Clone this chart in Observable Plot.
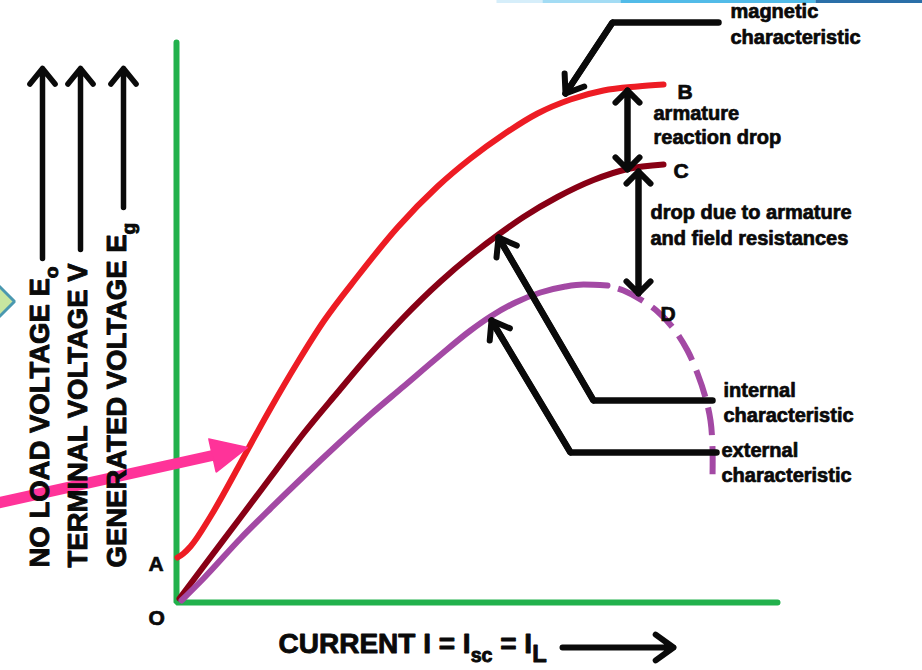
<!DOCTYPE html>
<html><head><meta charset="utf-8">
<script src="https://cdn.jsdelivr.net/npm/d3@7"></script>
<script src="https://cdn.jsdelivr.net/npm/@observablehq/plot@0.6"></script>
<style>
html,body{margin:0;padding:0;background:#fff;}
#chart{width:922px;height:670px;overflow:hidden;}
</style></head><body><div id="chart"></div>
<script>
// ---- curves (current units, voltage units) ----
const magneticI = [0.2,1.4,2.8,6.8,12.2,14.8,18.8,24.2,29.4,36.2,44.2,52.2,58.8,65.4,72.2,78.8,85.4,92.2,97.4];
const magneticE = [9,9.8,11.2,17.2,26.8,31.6,38.8,48,56.2,65.2,75,83.2,88.8,93.6,97.8,100.6,102.4,103.2,103.6];
const internalI = [0.6,5.4,12.8,18.8,25.4,32.2,38.8,45.4,52.8,59.4,64.4,69.4,76.2,83.4,90.2,97.4];
const internalV = [0.8,7.2,17,25,33.8,42,49.8,57,64.2,69.8,73.6,77.1,81.1,84.5,86.7,87.6];
const externalI = [1,5.4,12.8,18.8,25.4,32.2,38.8,45.4,52.2,58.8,62.8,67.8,72.8,77.8,81.4,86.2];
const externalV = [0.4,4.8,12.8,18.8,25.2,31.6,37.6,43.2,49,54.4,57.2,60,62,63.2,63.6,63.4];
const collapseI = [86.2,89.4,92.8,96.2,99.4,102.2,104.2,105.8,106.8,107.2,107.2];
const collapseV = [63.4,62.4,60.6,58.2,54.8,50.4,45.8,41,36.4,31,24.8];

// ---- axes ----
const axisX = [0, 0, 120.2];
const axisY = [112, 0, 0];

// ---- pointers (polyline, last segment has arrow head) ----
const magneticPointerX = [108.4, 87.2, 77.8];
const magneticPointerY = [116, 116, 101.8];
const internalPointerX = [107.2, 83.4, 64.4];
const internalPointerY = [40.4, 40.4, 73];
const externalPointerX = [108, 78.8, 63];
const externalPointerY = [30, 30, 56.4];

// ---- double arrows (drops) ----
const dropX = [90.2, 92.4];
const dropTop = [102.4, 86.2];
const dropBottom = [86.6, 61.8];

// ---- axis titles ----
const yTitles = ["NO LOAD VOLTAGE E_{o}", "TERMINAL VOLTAGE V", "GENERATED VOLTAGE E_{g}"];
const yTitleX = [-27.2, -19.6, -11.8];
const yTitleY = [7, 7, 7];
const yArrowX = [-26.8, -19.2, -10.6];
const yArrowFrom = [68.8, 70.6, 79];
const yArrowTo = [106.8, 106.8, 106.8];
const xTitle = ["CURRENT I = I_{sc} = I_{L}"];
const xTitleX = [20.4];
const xTitleY = [-8.4];
const xArrowX = [77.2, 99.4];
const xArrowY = [-9, -9];

// ---- point labels ----
const pointNames = ["A", "O", "B", "C", "D"];
const pointX = [-5.6, -5.6, 100.2, 99.4, 96.8];
const pointY = [7.6, -3.1, 102.1, 86.3, 57.7];

// ---- annotation text ----
const noteLines = ["magnetic","characteristic","armature","reaction drop","drop due to armature","and field resistances","internal","characteristic","external","characteristic"];
const noteX = [110.8,110.8,95.4,95.4,94.8,94.8,109.4,109.4,109,109];
const noteY = [118.1,112.9,97.7,92.9,77.9,72.7,42.3,37.3,30.3,25.3];

// ---- decorations ----
const pinkShaftX = [-36.2, 7.2];
const pinkShaftY = [19.8, 29.4];
const pinkHeadX = [6.46, 14.2, 7.94, 6.46];
const pinkHeadY = [32.72, 31, 26.08, 32.72];
const tabX = [-36.2, -32.4, -36.2];
const tabY = [64, 60.2, 56.4];
const stripX = [64, 73.2, 88.8, 127.8, 149.2];
const stripColors = ["#d6eefa", "#a3dcf4", "#52bbe8", "#2a6fa8"];
const stripY = 120.2;

const pts = (xs, ys) => xs.map((x, i) => ({x, y: ys[i]}));
const segs = (xs, ys) => xs.slice(0, -1).map((x, i) => ({x1: x, y1: ys[i], x2: xs[i + 1], y2: ys[i + 1]}));
const lastSeg = (xs, ys) => [segs(xs, ys).at(-1)];

const black = "#0a0a0a";
const lineOpts = {x: "x", y: "y", strokeWidth: 6, strokeLinecap: "round", strokeLinejoin: "round", curve: "monotone-x"};
// Plot scales headLength by strokeWidth/1.5
const head = (px, sw) => px * 1.5 / sw;
const arrowHead = {x1: "x1", y1: "y1", x2: "x2", y2: "y2", stroke: black, strokeWidth: 6, headLength: head(20, 6), headAngle: 72, strokeLinecap: "round", strokeLinejoin: "round"};

const dropArrows = [];
dropX.forEach((x, i) => {
  dropArrows.push({x1: x, y1: dropBottom[i], x2: x, y2: dropTop[i]});
  dropArrows.push({x1: x, y1: dropTop[i], x2: x, y2: dropBottom[i]});
});
const yArrows = yArrowX.map((x, i) => ({x1: x, y1: yArrowFrom[i], x2: x, y2: yArrowTo[i]}));
const xArrows = [{x1: xArrowX[0], y1: xArrowY[0], x2: xArrowX[1], y2: xArrowY[1]}];
const textStyle = {textAnchor: "start", lineAnchor: "middle", fontWeight: "bold", fill: black, stroke: black, strokeWidth: 0.7};

const chart = Plot.plot({
  width: 922, height: 670,
  marginLeft: 176, marginRight: 146, marginTop: 42, marginBottom: 68,
  x: {domain: [0, 120], axis: null},
  y: {domain: [0, 112], axis: null},
  color: {type: "identity"},
  style: {fontFamily: "'Liberation Sans', Arial, Helvetica, sans-serif", background: "#fff", overflow: "visible"},
  marks: [
    // top strip & left tab decorations
    Plot.link(segs(stripX, stripX.map(() => stripY)).map((d, i) => ({...d, c: stripColors[i]})), {x1: "x1", y1: "y1", x2: "x2", y2: "y2", stroke: "c", strokeWidth: 3}),
    Plot.line(pts(tabX, tabY), {x: "x", y: "y", fill: "#c8e6a0", stroke: "#4a98b0", strokeWidth: 3, strokeLinejoin: "miter"}),
    // axes
    Plot.line(pts(axisX, axisY), {x: "x", y: "y", stroke: "#22b14c", strokeWidth: 6, strokeLinecap: "round", strokeLinejoin: "miter"}),
    // curves
    Plot.line(pts(magneticI, magneticE), {...lineOpts, stroke: "#ed1c24"}),
    Plot.line(pts(internalI, internalV), {...lineOpts, stroke: "#880015"}),
    Plot.line(pts(externalI, externalV), {...lineOpts, stroke: "#a349a4"}),
    Plot.line(pts(collapseI, collapseV), {...lineOpts, curve: "catmull-rom", stroke: "#a349a4", strokeLinecap: "butt", strokeDasharray: "28,11", strokeDashoffset: 28}),
    // pointers
    Plot.line(pts(magneticPointerX, magneticPointerY), {x: "x", y: "y", stroke: black, strokeWidth: 6.5, strokeLinejoin: "miter", strokeLinecap: "round"}),
    Plot.arrow(lastSeg(magneticPointerX, magneticPointerY), arrowHead),
    Plot.line(pts(internalPointerX, internalPointerY), {x: "x", y: "y", stroke: black, strokeWidth: 6.5, strokeLinejoin: "miter", strokeLinecap: "round"}),
    Plot.arrow(lastSeg(internalPointerX, internalPointerY), arrowHead),
    Plot.line(pts(externalPointerX, externalPointerY), {x: "x", y: "y", stroke: black, strokeWidth: 6.5, strokeLinejoin: "miter", strokeLinecap: "round"}),
    Plot.arrow(lastSeg(externalPointerX, externalPointerY), arrowHead),
    // drop arrows
    Plot.arrow(dropArrows, {...arrowHead, headLength: head(17, 6), headAngle: 90}),
    // axis title arrows
    Plot.arrow(yArrows, {...arrowHead, strokeWidth: 5.5, headLength: head(20, 5.5), headAngle: 78}),
    Plot.arrow(xArrows, {...arrowHead, strokeWidth: 6, headLength: head(22, 6), headAngle: 72}),
    // pink arrow
    Plot.line(pts(pinkShaftX, pinkShaftY), {x: "x", y: "y", stroke: "#ff3399", strokeWidth: 11}),
    Plot.line(pts(pinkHeadX, pinkHeadY), {x: "x", y: "y", fill: "#ff3399", stroke: "#ff3399", strokeWidth: 1.5, strokeLinejoin: "miter"}),
    // texts
    Plot.text(yTitles, {...textStyle, x: (d, i) => yTitleX[i], y: (d, i) => yTitleY[i], text: d => d, rotate: -90, fontSize: 27.5, strokeWidth: 0.9}),
    Plot.text(xTitle, {...textStyle, x: (d, i) => xTitleX[i], y: (d, i) => xTitleY[i], text: d => d, fontSize: 28, strokeWidth: 0.9}),
    Plot.text(pointNames, {...textStyle, x: (d, i) => pointX[i], y: (d, i) => pointY[i], text: d => d, fontSize: 21}),
    Plot.text(noteLines, {...textStyle, x: (d, i) => noteX[i], y: (d, i) => noteY[i], text: d => d, fontSize: 20})
  ]
});
document.getElementById("chart").appendChild(chart);

// subscripts: "_{..}" -> lowered, smaller tspans
const SVGNS = "http://www.w3.org/2000/svg";
chart.querySelectorAll("text").forEach(t => {
  const s = t.textContent;
  if (!s.includes("_{")) return;
  const fs = parseFloat(getComputedStyle(t).fontSize) || 20;
  while (t.firstChild) t.removeChild(t.firstChild);
  const re = /_\{([^}]*)\}|([^_]+)/g;
  let m, shift = 0;
  while ((m = re.exec(s))) {
    const ts = document.createElementNS(SVGNS, "tspan");
    if (m[1] !== undefined) {
      const k = /[A-Z]/.test(m[1]) ? 0.85 : 0.7;
      ts.textContent = m[1];
      ts.setAttribute("font-size", (fs * k) + "px");
      const s2 = fs * 0.3;
      ts.setAttribute("dy", (s2 - shift) + "px");
      shift = s2;
    } else {
      ts.textContent = m[2];
      if (shift) { ts.setAttribute("dy", (-shift) + "px"); shift = 0; }
    }
    t.appendChild(ts);
  }
});
</script>
</body></html>
